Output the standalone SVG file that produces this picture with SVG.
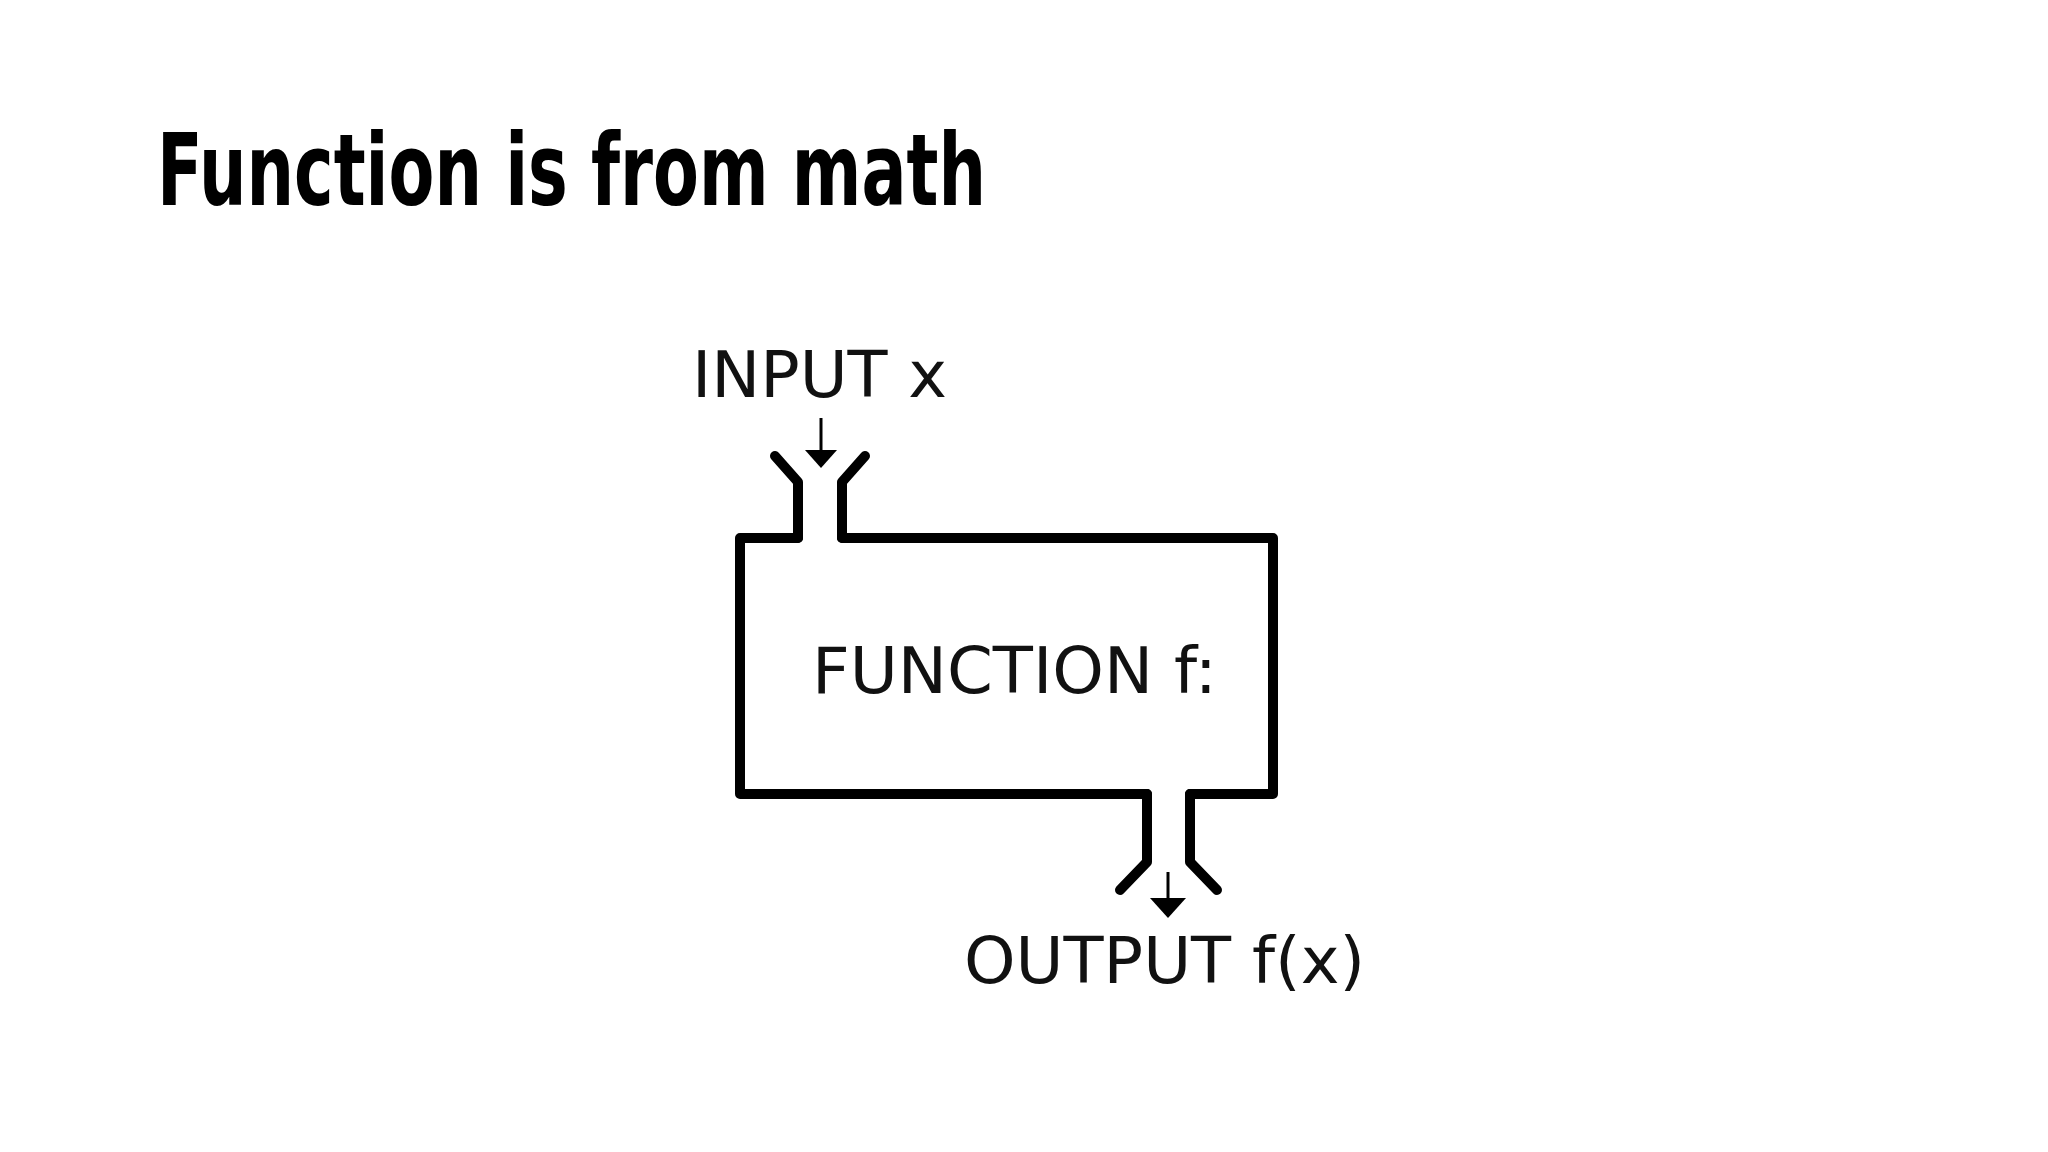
<svg xmlns="http://www.w3.org/2000/svg" width="2048" height="1152" viewBox="0 0 2048 1152">
<style>
.lbl{font-family:"DejaVu Sans",sans-serif;font-size:64px;fill:#111}
.ln{fill:none;stroke:#000;stroke-width:10;stroke-linejoin:round;stroke-linecap:round}
.ar{stroke:#000;stroke-width:3;fill:none}
</style>
<rect width="2048" height="1152" fill="#fff"/>
<text x="157" y="205" font-family="DejaVu Sans Condensed,sans-serif" font-weight="bold" font-size="100" textLength="829" lengthAdjust="spacingAndGlyphs">Function is from math</text>
<g id="function">
<path class="ln" d="M798,538 H740 V794 H1147 M1190,794 H1273 V538 H842"/>
<text class="lbl" x="812" y="693" font-size="66" textLength="405" lengthAdjust="spacingAndGlyphs">FUNCTION f:</text>
</g>
<g id="input">
<text class="lbl" x="692" y="397" textLength="255" lengthAdjust="spacingAndGlyphs">INPUT x</text>
</g>
<g id="output">
<text class="lbl" x="964" y="983" textLength="401" lengthAdjust="spacingAndGlyphs">OUTPUT f(x)</text>
</g>
<g id="connectors">
<path class="ln" d="M775,456 L798,482 V538 M865,456 L842,482 V538"/>
<path class="ln" d="M1147,794 V862 L1120,890 M1190,794 V862 L1217,890"/>
<path class="ar" d="M821,418 V452"/>
<polygon points="805,450 837,450 821,468"/>
<path class="ar" d="M1168,872 V900"/>
<polygon points="1150,898 1186,898 1168,918"/>
</g>
</svg>
